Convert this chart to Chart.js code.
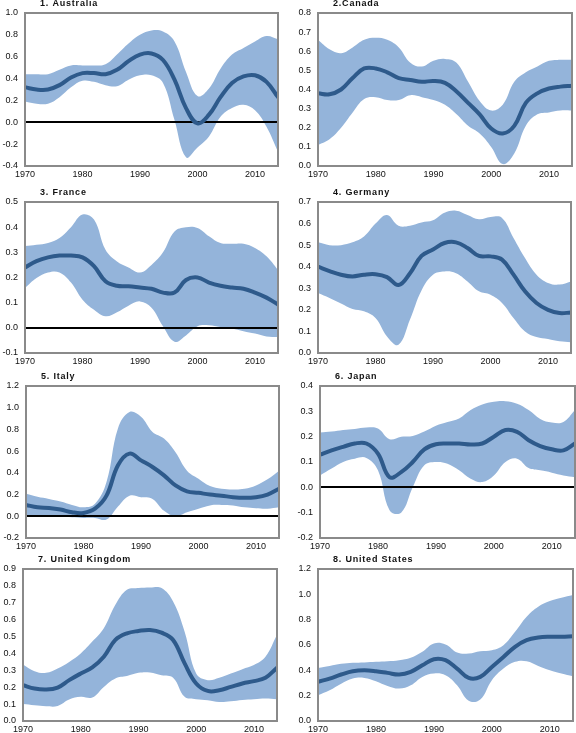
<!DOCTYPE html>
<html>
<head>
<meta charset="utf-8">
<script src="https://cdn.jsdelivr.net/npm/chart.js@4"></script>
<style>
  html, body { margin: 0; padding: 0; background: #fff; }
  #lienzo { position: relative; width: 576px; height: 733px; overflow: hidden; }
  #lienzo canvas { position: absolute; }
</style>
</head>
<body>
<div id="lienzo"></div>
<script>
// Años de muestreo (cada 2 años) compartidos por los 8 paneles
const anios = [1970, 1972, 1974, 1976, 1978, 1980, 1982, 1984, 1986, 1988, 1990, 1992,
               1994, 1996, 1998, 2000, 2002, 2004, 2006, 2008, 2010, 2012, 2014];
const ticksAnio = [1970, 1980, 1990, 2000, 2010];

const titulos = ['1. Australia', '2.Canada', '3. France', '4. Germany',
                 '5. Italy', '6. Japan', '7. United Kingdom', '8. United States'];
const ejeMin  = [-0.4, 0.0, -0.1, 0.0, -0.2, -0.2, 0.0, 0.0];
const ejeMax  = [1.0, 0.8, 0.5, 0.7, 1.2, 0.4, 0.9, 1.2];
const ejePaso = [0.2, 0.1, 0.1, 0.1, 0.2, 0.1, 0.1, 0.2];

// 1. Australia
const ausCentral  = [0.32, 0.30, 0.30, 0.34, 0.41, 0.45, 0.45, 0.44, 0.48, 0.56, 0.62, 0.63, 0.57, 0.39, 0.13, -0.01, 0.07, 0.23, 0.36, 0.42, 0.43, 0.37, 0.23];
const ausSuperior = [0.44, 0.44, 0.44, 0.48, 0.52, 0.52, 0.52, 0.53, 0.62, 0.72, 0.80, 0.84, 0.83, 0.74, 0.46, 0.24, 0.31, 0.49, 0.62, 0.68, 0.74, 0.79, 0.76];
const ausInferior = [0.19, 0.17, 0.17, 0.23, 0.32, 0.38, 0.37, 0.34, 0.33, 0.39, 0.43, 0.43, 0.36, 0.02, -0.32, -0.23, -0.13, 0.05, 0.13, 0.16, 0.11, -0.04, -0.27];
// 2. Canada
const canCentral  = [0.38, 0.375, 0.40, 0.46, 0.51, 0.51, 0.49, 0.46, 0.45, 0.44, 0.445, 0.435, 0.39, 0.33, 0.27, 0.196, 0.17, 0.21, 0.33, 0.38, 0.405, 0.415, 0.42];
const canSuperior = [0.66, 0.61, 0.59, 0.62, 0.66, 0.67, 0.66, 0.62, 0.54, 0.52, 0.55, 0.56, 0.54, 0.44, 0.34, 0.29, 0.32, 0.44, 0.49, 0.52, 0.55, 0.555, 0.555];
const canInferior = [0.11, 0.14, 0.20, 0.28, 0.35, 0.36, 0.345, 0.345, 0.37, 0.36, 0.345, 0.32, 0.27, 0.21, 0.17, 0.10, 0.01, 0.065, 0.21, 0.27, 0.28, 0.29, 0.29];
// 3. France
const fraCentral  = [0.24, 0.265, 0.28, 0.287, 0.287, 0.28, 0.245, 0.185, 0.167, 0.165, 0.16, 0.155, 0.14, 0.14, 0.19, 0.20, 0.18, 0.167, 0.16, 0.155, 0.14, 0.12, 0.093];
const fraSuperior = [0.325, 0.33, 0.337, 0.357, 0.40, 0.45, 0.43, 0.31, 0.264, 0.24, 0.22, 0.25, 0.30, 0.383, 0.40, 0.397, 0.364, 0.337, 0.334, 0.334, 0.317, 0.284, 0.23];
const fraInferior = [0.158, 0.198, 0.22, 0.22, 0.18, 0.112, 0.072, 0.046, 0.062, 0.088, 0.105, 0.08, 0.006, -0.055, -0.03, 0.006, 0.01, 0.003, -0.003, -0.014, -0.023, -0.034, -0.036];
// 4. Germany
const gerCentral  = [0.40, 0.38, 0.363, 0.355, 0.363, 0.365, 0.352, 0.315, 0.37, 0.45, 0.48, 0.51, 0.513, 0.487, 0.45, 0.448, 0.433, 0.363, 0.286, 0.232, 0.20, 0.185, 0.188];
const gerSuperior = [0.513, 0.50, 0.50, 0.513, 0.54, 0.60, 0.64, 0.59, 0.59, 0.605, 0.615, 0.65, 0.66, 0.64, 0.62, 0.63, 0.626, 0.533, 0.44, 0.363, 0.325, 0.317, 0.332];
const gerInferior = [0.278, 0.255, 0.229, 0.204, 0.193, 0.162, 0.077, 0.038, 0.155, 0.29, 0.363, 0.378, 0.37, 0.332, 0.286, 0.27, 0.232, 0.162, 0.10, 0.074, 0.065, 0.054, 0.05];
// 5. Italy
const itaCentral  = [0.105, 0.083, 0.077, 0.062, 0.037, 0.031, 0.07, 0.19, 0.47, 0.577, 0.515, 0.454, 0.377, 0.284, 0.23, 0.216, 0.20, 0.19, 0.176, 0.17, 0.176, 0.20, 0.253];
const itaSuperior = [0.207, 0.18, 0.16, 0.136, 0.105, 0.083, 0.115, 0.315, 0.81, 0.96, 0.916, 0.777, 0.716, 0.59, 0.42, 0.346, 0.278, 0.253, 0.247, 0.253, 0.284, 0.34, 0.42];
const itaInferior = [0.0, 0.0, 0.0, 0.0, -0.01, -0.015, -0.015, -0.03, 0.09, 0.19, 0.176, 0.16, 0.05, 0.0, 0.037, 0.07, 0.10, 0.105, 0.10, 0.083, 0.074, 0.07, 0.083];
// 6. Japan
const japCentral  = [0.129, 0.146, 0.16, 0.173, 0.173, 0.133, 0.04, 0.06, 0.10, 0.15, 0.17, 0.173, 0.173, 0.169, 0.173, 0.20, 0.226, 0.219, 0.186, 0.163, 0.15, 0.146, 0.173];
const japSuperior = [0.216, 0.22, 0.226, 0.23, 0.236, 0.232, 0.19, 0.20, 0.203, 0.22, 0.243, 0.258, 0.272, 0.305, 0.327, 0.338, 0.34, 0.33, 0.305, 0.27, 0.256, 0.258, 0.305];
const japInferior = [0.047, 0.074, 0.10, 0.113, 0.116, 0.067, -0.09, -0.10, 0.0, 0.087, 0.10, 0.093, 0.067, 0.034, 0.021, 0.047, 0.10, 0.113, 0.076, 0.067, 0.058, 0.047, 0.04];
// 7. United Kingdom
const ukCentral  = [0.212, 0.192, 0.186, 0.198, 0.242, 0.281, 0.317, 0.38, 0.48, 0.519, 0.533, 0.539, 0.523, 0.48, 0.341, 0.222, 0.178, 0.182, 0.202, 0.222, 0.236, 0.256, 0.315];
const ukSuperior = [0.335, 0.295, 0.285, 0.311, 0.35, 0.40, 0.47, 0.549, 0.688, 0.777, 0.787, 0.791, 0.787, 0.708, 0.529, 0.281, 0.242, 0.256, 0.281, 0.307, 0.331, 0.38, 0.51];
const ukInferior = [0.10, 0.093, 0.087, 0.089, 0.127, 0.143, 0.139, 0.202, 0.252, 0.266, 0.285, 0.287, 0.271, 0.256, 0.143, 0.129, 0.123, 0.113, 0.117, 0.125, 0.129, 0.133, 0.129];
// 8. United States
const usaCentral  = [0.309, 0.335, 0.367, 0.393, 0.40, 0.393, 0.38, 0.367, 0.388, 0.44, 0.488, 0.48, 0.414, 0.34, 0.348, 0.427, 0.506, 0.586, 0.638, 0.659, 0.665, 0.665, 0.67];
const usaSuperior = [0.419, 0.435, 0.451, 0.459, 0.462, 0.467, 0.472, 0.48, 0.499, 0.546, 0.612, 0.604, 0.541, 0.533, 0.551, 0.559, 0.599, 0.704, 0.823, 0.902, 0.947, 0.973, 0.994];
const usaInferior = [0.203, 0.243, 0.295, 0.335, 0.34, 0.314, 0.277, 0.256, 0.282, 0.348, 0.375, 0.361, 0.282, 0.16, 0.17, 0.322, 0.414, 0.467, 0.472, 0.435, 0.401, 0.375, 0.353];

const centrales  = [ausCentral, canCentral, fraCentral, gerCentral, itaCentral, japCentral, ukCentral, usaCentral];
const superiores = [ausSuperior, canSuperior, fraSuperior, gerSuperior, itaSuperior, japSuperior, ukSuperior, usaSuperior];
const inferiores = [ausInferior, canInferior, fraInferior, gerInferior, itaInferior, japInferior, ukInferior, usaInferior];

// Área de trazado de cada panel en la página: [izq, arriba, der, abajo]
const cajas = [
  [25, 13, 278, 166], [318, 13, 572, 166],
  [25, 202, 278, 353], [318, 202, 571, 353],
  [26, 386, 279, 538], [320, 386, 575, 538],
  [23, 569, 277, 721], [318, 569, 573, 721]
];

const COLORES = {
  banda: '#94B4DA',
  linea: '#2E5A8B',
  marco: '#8A8A8A',
  cero: '#000000',
  texto: '#111111'
};
const FUENTE = "'Liberation Sans', Arial, sans-serif";

// Marco gris, línea del cero (entre la banda y la línea central) y título
const decoracionPanel = {
  id: 'decoracionPanel',
  beforeDatasetDraw(chart, args, opts) {
    if (args.index !== 2 || opts.min >= 0) return;
    const { ctx, chartArea } = chart;
    const y = Math.round(chart.scales.y.getPixelForValue(0));
    ctx.save();
    ctx.strokeStyle = COLORES.cero;
    ctx.lineWidth = 2;
    ctx.beginPath();
    ctx.moveTo(chartArea.left, y);
    ctx.lineTo(chartArea.right, y);
    ctx.stroke();
    ctx.restore();
  },
  afterDraw(chart, args, opts) {
    const { ctx, chartArea } = chart;
    ctx.save();
    ctx.strokeStyle = COLORES.marco;
    ctx.lineWidth = 2;
    ctx.strokeRect(chartArea.left, chartArea.top, chartArea.right - chartArea.left, chartArea.bottom - chartArea.top);
    ctx.fillStyle = COLORES.texto;
    ctx.font = 'bold 9px ' + FUENTE;
    ctx.letterSpacing = '0.8px';
    ctx.textBaseline = 'middle';
    ctx.textAlign = 'left';
    ctx.fillText(opts.titulo, chartArea.left + 15, chartArea.top - 9);
    ctx.restore();
  }
};

const serie = (valores) => anios.map((a, i) => ({ x: a, y: valores[i] }));

// Evita etiquetas "-0.0" por errores de redondeo
const formatoTick = (v) => (Math.abs(v) < 1e-9 ? 0 : Number(v)).toFixed(1);

function crearPanel(i) {
  const [izq, arriba, der, abajo] = cajas[i];
  const col = i % 2;
  const lienzoIzq = col * 288;
  const lienzoArriba = Math.max(0, arriba - 14);
  const ancho = 288;
  const alto = abajo - lienzoArriba + 13;

  const canvas = document.createElement('canvas');
  canvas.width = ancho;
  canvas.height = alto;
  canvas.style.left = lienzoIzq + 'px';
  canvas.style.top = lienzoArriba + 'px';
  canvas.style.width = ancho + 'px';
  canvas.style.height = alto + 'px';
  document.getElementById('lienzo').appendChild(canvas);

  const anchoEjeY = izq - lienzoIzq;
  const margenDer = lienzoIzq + ancho - der;
  const margenSup = arriba - lienzoArriba;

  return new Chart(canvas.getContext('2d'), {
    type: 'line',
    data: {
      datasets: [
        {
          data: serie(inferiores[i]),
          borderWidth: 0,
          borderColor: 'transparent',
          pointRadius: 0,
          tension: 0.4,
          fill: false,
          order: 2
        },
        {
          data: serie(superiores[i]),
          borderWidth: 0,
          borderColor: 'transparent',
          backgroundColor: COLORES.banda,
          pointRadius: 0,
          tension: 0.4,
          fill: '-1',
          order: 1
        },
        {
          data: serie(centrales[i]),
          borderColor: COLORES.linea,
          borderWidth: 4,
          borderCapStyle: 'round',
          pointRadius: 0,
          tension: 0.4,
          fill: false,
          order: 0
        }
      ]
    },
    options: {
      responsive: false,
      animation: false,
      devicePixelRatio: 1,
      layout: { padding: { left: 0, right: margenDer, top: margenSup, bottom: 0 } },
      plugins: {
        legend: { display: false },
        tooltip: { enabled: false },
        decoracionPanel: { titulo: titulos[i], min: ejeMin[i] }
      },
      scales: {
        x: {
          type: 'linear',
          min: 1970,
          max: 2014,
          grid: { display: false, drawTicks: false },
          border: { display: false },
          afterBuildTicks: (escala) => { escala.ticks = ticksAnio.map(v => ({ value: v })); },
          afterFit: (escala) => { escala.height = 13; },
          ticks: {
            padding: 3,
            maxRotation: 0,
            color: COLORES.texto,
            font: { family: FUENTE, size: 9 },
            callback: (v) => String(v)
          }
        },
        y: {
          min: ejeMin[i],
          max: ejeMax[i],
          grid: { display: false, drawTicks: false },
          border: { display: false },
          afterFit: (escala) => { escala.width = anchoEjeY; },
          ticks: {
            stepSize: ejePaso[i],
            padding: 7,
            color: COLORES.texto,
            font: { family: FUENTE, size: 9 },
            callback: formatoTick
          }
        }
      }
    },
    plugins: [decoracionPanel]
  });
}

titulos.forEach((_, i) => crearPanel(i));
</script>
</body>
</html>
